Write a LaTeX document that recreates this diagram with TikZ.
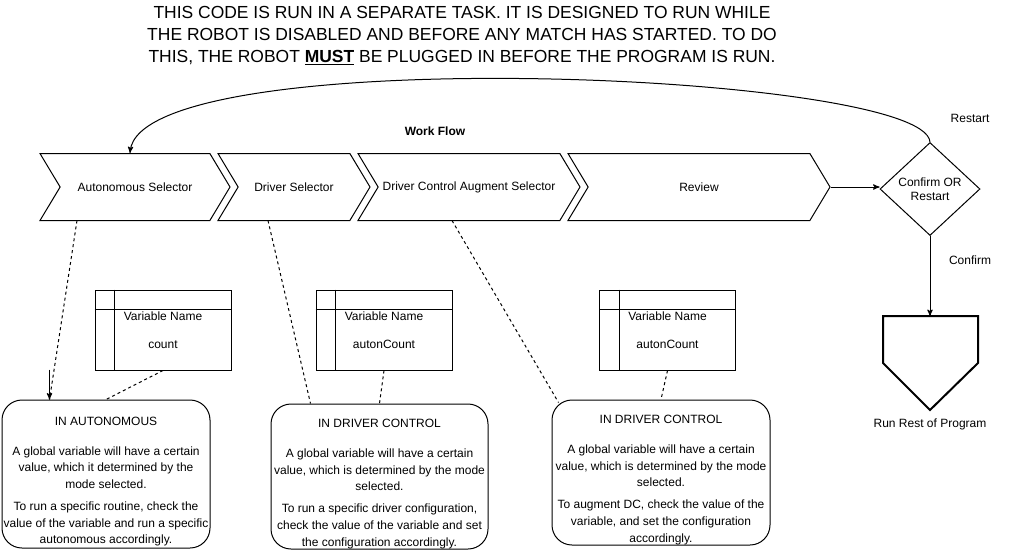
\documentclass[tikz,border=0pt]{standalone}
\usepackage{fontspec}
\setmainfont{Liberation Sans}
\usetikzlibrary{calc}
\usetikzlibrary{shapes,arrows}
\usetikzlibrary{positioning}
\tikzstyle{chev}=[signal, draw, signal from=west, signal to=east, signal pointer angle=118, minimum height=50.25pt, inner sep=0pt, font=\fontsize{9}{11}\selectfont]
\tikzstyle{varbox}=[rectangle, draw, minimum width=102pt, minimum height=60pt, align=center, inner sep=0pt, font=\fontsize{9}{12}\selectfont]
\tikzstyle{notebox}=[rectangle, draw, rounded corners=15pt, align=center, inner sep=0pt, font=\fontsize{9}{12.5}\selectfont]
\tikzstyle{lbl}=[font=\fontsize{9}{10.5}\selectfont]
\tikzstyle{dl}=[dash pattern=on 2.25pt off 2.25pt]

\begin{document}
\begin{tikzpicture}[x=0.75pt, y=-0.75pt, line width=0.75pt, >=stealth']
\useasboundingbox (0,0) rectangle (1011,551);
% heading
\node[font=\fontsize{13.1}{16.5}\selectfont, align=center] (head) at (462,35.5) {THIS CODE IS RUN IN A SEPARATE TASK. IT IS DESIGNED TO RUN WHILE\\THE ROBOT IS DISABLED AND BEFORE ANY MATCH HAS STARTED. TO DO\\THIS, THE ROBOT \underline{\textbf{MUST}} BE PLUGGED IN BEFORE THE PROGRAM IS RUN.};
\node[font=\fontsize{9}{10}\selectfont\bfseries] (wf) at (435,131) {Work Flow};

% work flow
\node[chev, minimum width=142.5pt] (auto) at (135,187) {Autonomous Selector};
\node[chev, minimum width=114pt] (drv) at (294,187) {Driver Selector};
\node[chev, minimum width=166.5pt] (dca) at (469,187) {Driver Control Augment Selector};
\node[chev, minimum width=196.5pt] (rev) at (699,187) {Review};
\node[diamond, draw, lbl, minimum width=75pt, minimum height=69.75pt, inner sep=0pt, align=center] (dia) at (930,189) {Confirm OR\\Restart};
\draw[->] (rev.east) -- (rev.east -| dia.west);

% end of program
\coordinate (rrtop) at (930,316);
\draw[line width=1.5pt] (883,316) -- (978,316) -- (978,363) -- (930,410) -- (883,363) -- cycle;
\node[lbl] (rrlbl) at (930,424) {Run Rest of Program};
\draw[->] (dia.south) -- (rrtop);
\node[lbl] (cf) at (970,260) {Confirm};

% restart loop
\coordinate (autotop) at ($(auto.north)+(-5,0)$);
\draw[->] (dia.north) .. controls (925,72) and (140,40) .. (autotop);
\node[lbl] (rs) at (970,118) {Restart};

% variables
\node[varbox] (varauto) at (163,330) {Variable Name\\[9pt]count};
\node[varbox] (vardrv) at (384,330) {Variable Name\\[9pt]autonCount};
\node[varbox] (vardca) at (667.5,330) {Variable Name\\[9pt]autonCount};
\foreach \v in {varauto,vardrv,vardca}{
  \draw ($(\v.north west)+(0,20)$) -- ($(\v.north east)+(0,20)$);
  \draw ($(\v.north west)+(20,0)$) -- ($(\v.south west)+(20,0)$);
}

% notes
\node[notebox, minimum width=156pt, minimum height=111pt] (noteauto) at (106,474) {\rule{0pt}{17.5pt}IN AUTONOMOUS\\[10pt]A global variable will have a certain\\value, which it determined by the\\mode selected.\\[4pt]To run a specific routine, check the\\value of the variable and run a specific\\autonomous accordingly.};
\node[notebox, minimum width=162.75pt, minimum height=108.75pt] (notedrv) at (379.5,476.5) {\rule{0pt}{17.5pt}IN DRIVER CONTROL\\[10pt]A global variable will have a certain\\value, which is determined by the mode\\selected.\\[4pt]To run a specific driver configuration,\\check the value of the variable and set\\the configuration accordingly.};
\node[notebox, minimum width=163.5pt, minimum height=108.75pt] (notedca) at (661,472.5) {\rule{0pt}{17.5pt}IN DRIVER CONTROL\\[10pt]A global variable will have a certain\\value, which is determined by the mode\\selected.\\[4pt]To augment DC, check the value of the\\variable, and set the configuration\\accordingly.};

% links
\coordinate (autoin) at ($(noteauto.north west)+(48,0)$);
\draw[dl] ($(auto)+(-58,33.5)$) -- (autoin);
\draw[->] ($(autoin)+(0,-30)$) -- (autoin);
\draw[dl] ($(drv)+(-26,33.5)$) -- ($(notedrv.north west)+(40,0)$);
\draw[dl] ($(dca)+(-17,33.5)$) -- ($(notedca.north west)+(7,3)$);
\foreach \v/\n in {varauto/noteauto,vardrv/notedrv,vardca/notedca}
  \draw[dl] (\v.south) -- (\n.north);

\end{tikzpicture}
\end{document}
